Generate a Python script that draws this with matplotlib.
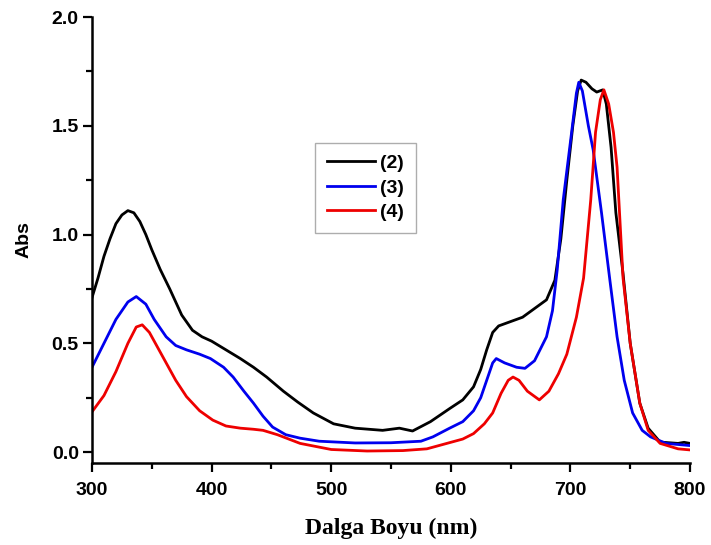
import numpy as np
import matplotlib.pyplot as plt

# absorbance spectra
wl_2 = [300, 305, 310, 315, 320, 325, 330, 335, 340, 345, 350, 357, 365, 375, 384, 392, 400,
        412, 424, 435, 446, 460, 472, 485, 502, 520, 543, 557, 568, 583, 599, 610, 619, 625,
        630, 635, 640, 650, 660, 670, 680, 687, 692, 697, 702, 706, 709, 713, 718, 722, 727,
        730, 734, 738, 744, 750, 758, 765, 775, 790, 795, 800]
abs_2 = [0.71, 0.80, 0.90, 0.98, 1.05, 1.09, 1.11, 1.10, 1.06, 1.00, 0.93, 0.84, 0.75, 0.63,
         0.56, 0.53, 0.51, 0.47, 0.43, 0.39, 0.345, 0.28, 0.23, 0.18, 0.13, 0.11, 0.10, 0.11,
         0.097, 0.14, 0.20, 0.24, 0.30, 0.38, 0.47, 0.55, 0.58, 0.60, 0.62, 0.66, 0.70, 0.79,
         0.98, 1.25, 1.50, 1.66, 1.71, 1.70, 1.67, 1.655, 1.665, 1.60, 1.40, 1.10, 0.82, 0.50,
         0.225, 0.11, 0.046, 0.04, 0.045, 0.04]

wl_3 = [300, 310, 320, 330, 337, 345, 352, 362, 370, 379, 390, 399, 410, 418, 427, 435, 443,
        451, 462, 474, 490, 520, 550, 575, 585, 599, 610, 619, 625, 630, 635, 638, 645, 655,
        662, 670, 680, 685, 689, 694, 701, 705, 707, 710, 715, 719, 726, 733, 739, 745, 752,
        760, 767, 780, 800]
abs_3 = [0.39, 0.50, 0.61, 0.69, 0.715, 0.68, 0.61, 0.53, 0.49, 0.47, 0.45, 0.43, 0.39, 0.345,
         0.28, 0.225, 0.165, 0.115, 0.08, 0.064, 0.05, 0.042, 0.043, 0.05, 0.07, 0.11, 0.14,
         0.19, 0.25, 0.33, 0.41, 0.43, 0.41, 0.39, 0.385, 0.42, 0.53, 0.65, 0.84, 1.16, 1.47,
         1.65, 1.70, 1.66, 1.50, 1.39, 1.10, 0.79, 0.53, 0.33, 0.18, 0.10, 0.07, 0.04, 0.03]

wl_4 = [300, 310, 320, 330, 337, 342, 348, 355, 362, 370, 379, 390, 401, 412, 424, 435, 443,
        455, 474, 500, 530, 560, 580, 590, 600, 610, 619, 628, 635, 642, 648, 652, 657, 664,
        674, 682, 690, 697, 705, 711, 717, 721, 725, 728, 732, 736, 739, 744, 750, 758, 765,
        775, 790, 800]
abs_4 = [0.185, 0.26, 0.37, 0.50, 0.575, 0.585, 0.55, 0.48, 0.41, 0.33, 0.255, 0.19, 0.147,
         0.12, 0.11, 0.105, 0.10, 0.08, 0.04, 0.012, 0.005, 0.007, 0.015, 0.03, 0.045, 0.06,
         0.085, 0.13, 0.18, 0.27, 0.33, 0.345, 0.33, 0.28, 0.24, 0.28, 0.36, 0.45, 0.62, 0.80,
         1.16, 1.47, 1.62, 1.665, 1.60, 1.47, 1.31, 0.80, 0.50, 0.225, 0.10, 0.04, 0.015, 0.01]

labels = ['(2)', '(3)', '(4)']
colors = ['black', '#0000ee', '#ee0000']

plt.rcParams['font.family'] = ['Liberation Sans', 'DejaVu Sans']

fig = plt.figure(figsize=(7.11, 5.45), dpi=100)
ax = fig.add_axes([0.1294, 0.1505, 0.8411, 0.8183])

for wl, a, lab, c in zip([wl_2, wl_3, wl_4], [abs_2, abs_3, abs_4], labels, colors):
    ax.plot(wl, a, color=c, lw=2, label=lab)

ax.set_xlim(300, 800)
ax.set_ylim(-0.05, 2.0)
ax.set_xticks([300, 400, 500, 600, 700, 800])
ax.set_xticks([350, 450, 550, 650, 750], minor=True)
ax.set_yticks([0.0, 0.5, 1.0, 1.5, 2.0])
ax.set_yticks([0.25, 0.75, 1.25, 1.75], minor=True)
ax.set_yticklabels(['0.0', '0.5', '1.0', '1.5', '2.0'])

for s in ['top', 'right']:
    ax.spines[s].set_visible(False)
for s in ['left', 'bottom']:
    ax.spines[s].set_linewidth(1.8)

ax.tick_params(which='major', direction='out', length=6.5, width=1.6, labelsize=14)
ax.tick_params(axis='x', which='major', pad=7)
ax.tick_params(axis='y', which='major', pad=3)
ax.tick_params(which='minor', direction='out', length=4, width=1.6)
for t in ax.get_xticklabels() + ax.get_yticklabels():
    t.set_fontweight('bold')

ax.set_xlabel('Dalga Boyu (nm)', family='Liberation Serif', fontweight='bold', fontsize=17,
              labelpad=14)
ax.set_ylabel('Abs', fontweight='bold', fontsize=14, labelpad=14)

leg = ax.legend(loc='upper left', bbox_to_anchor=(0.373, 0.7175), fancybox=False,
                prop={'weight': 'bold', 'size': 14}, handlelength=2.5, borderpad=0.6,
                labelspacing=0.35, handletextpad=0.25, borderaxespad=0)
leg.get_frame().set_edgecolor('#999999')
leg.get_frame().set_linewidth(1.0)

fig.savefig('out.png', dpi=100)
